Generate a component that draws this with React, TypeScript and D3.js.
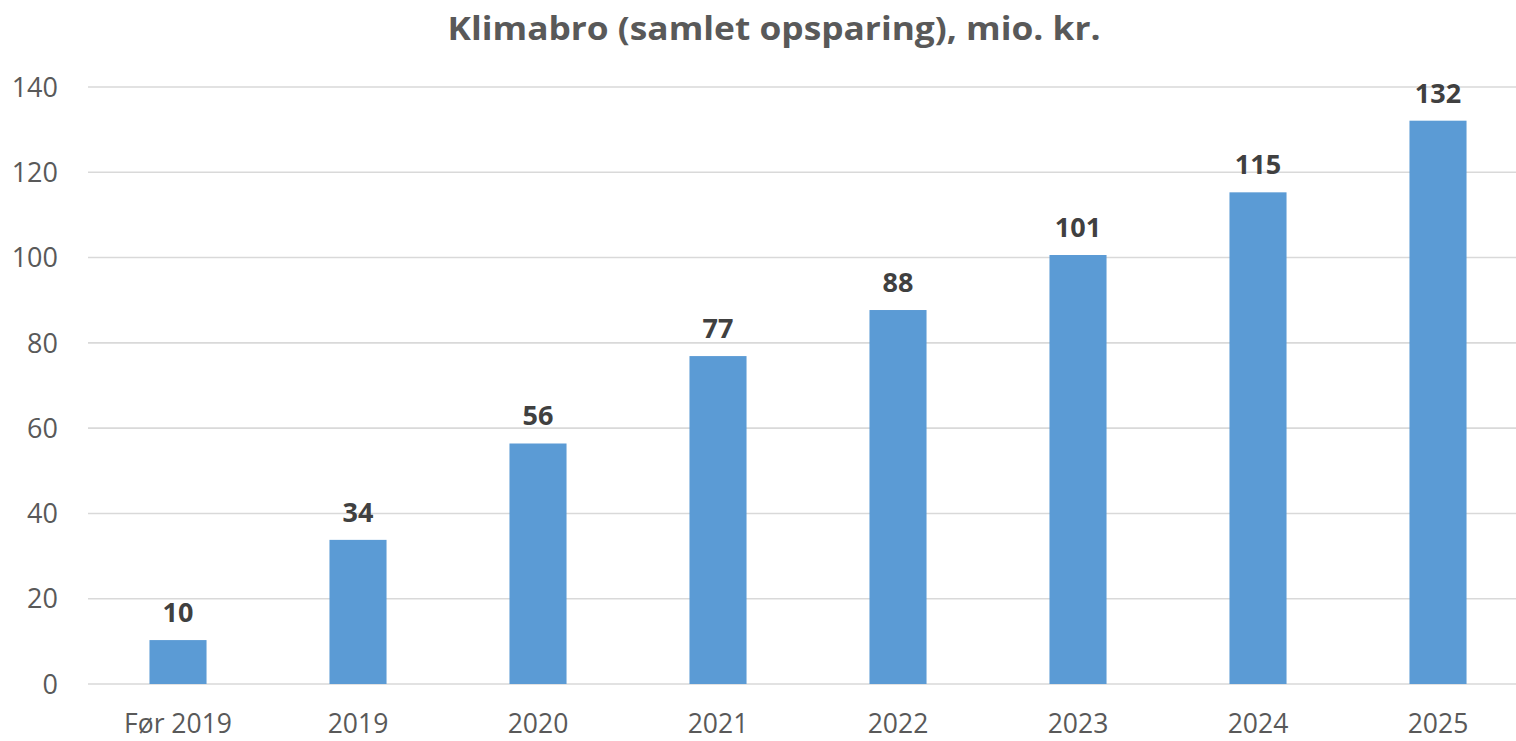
import React from "react";
import * as d3 from "d3";

const categories = ["Før 2019", "2019", "2020", "2021", "2022", "2023", "2024", "2025"];
const values = [10.3, 33.8, 56.4, 76.9, 87.7, 100.6, 115.3, 132.1];
const yTicks = [0, 20, 40, 60, 80, 100, 120, 140];
const title = "Klimabro (samlet opsparing), mio. kr.";

const W = 1516;
const H = 741;

export default function App() {
  const x = d3
    .scaleBand<string>()
    .domain(categories)
    .range([88, 1528])
    .paddingInner(0.683)
    .paddingOuter(0.3415);
  const y = d3.scaleLinear().domain([0, 140]).range([684, 87]);
  const font = "'Open Sans', 'DejaVu Sans', sans-serif";

  return (
    <svg
      width={W}
      height={H}
      style={{ position: "absolute", left: 0, top: 0, background: "#fff" }}
      fontFamily={font}
    >
      <rect x={0} y={0} width={W} height={H} fill="#fff" />
      <text
        x={774}
        y={40}
        textAnchor="middle"
        fontSize={33}
        fontWeight="bold"
        fill="#595959"
        textLength={653}
        lengthAdjust="spacingAndGlyphs"
      >
        {title}
      </text>
      {yTicks.map((t) => (
        <g key={t}>
          <line x1={88} x2={W} y1={y(t)} y2={y(t)} stroke="#D9D9D9" strokeWidth={1.6} />
          <text x={58} y={y(t) + 9.7} textAnchor="end" fontSize={27} fill="#595959">
            {t}
          </text>
        </g>
      ))}
      {categories.map((c, i) => (
        <g key={c}>
          <rect
            x={x(c)!}
            y={y(values[i])}
            width={x.bandwidth()}
            height={y(0) - y(values[i])}
            fill="#5B9BD5"
          />
          <text
            x={x(c)! + x.bandwidth() / 2}
            y={y(values[i]) - 18}
            textAnchor="middle"
            fontSize={27}
            fontWeight="bold"
            fill="#404040"
          >
            {Math.round(values[i])}
          </text>
          <text
            x={x(c)! + x.bandwidth() / 2}
            y={733}
            textAnchor="middle"
            fontSize={26.5}
            fill="#595959"
          >
            {c}
          </text>
        </g>
      ))}
    </svg>
  );
}
